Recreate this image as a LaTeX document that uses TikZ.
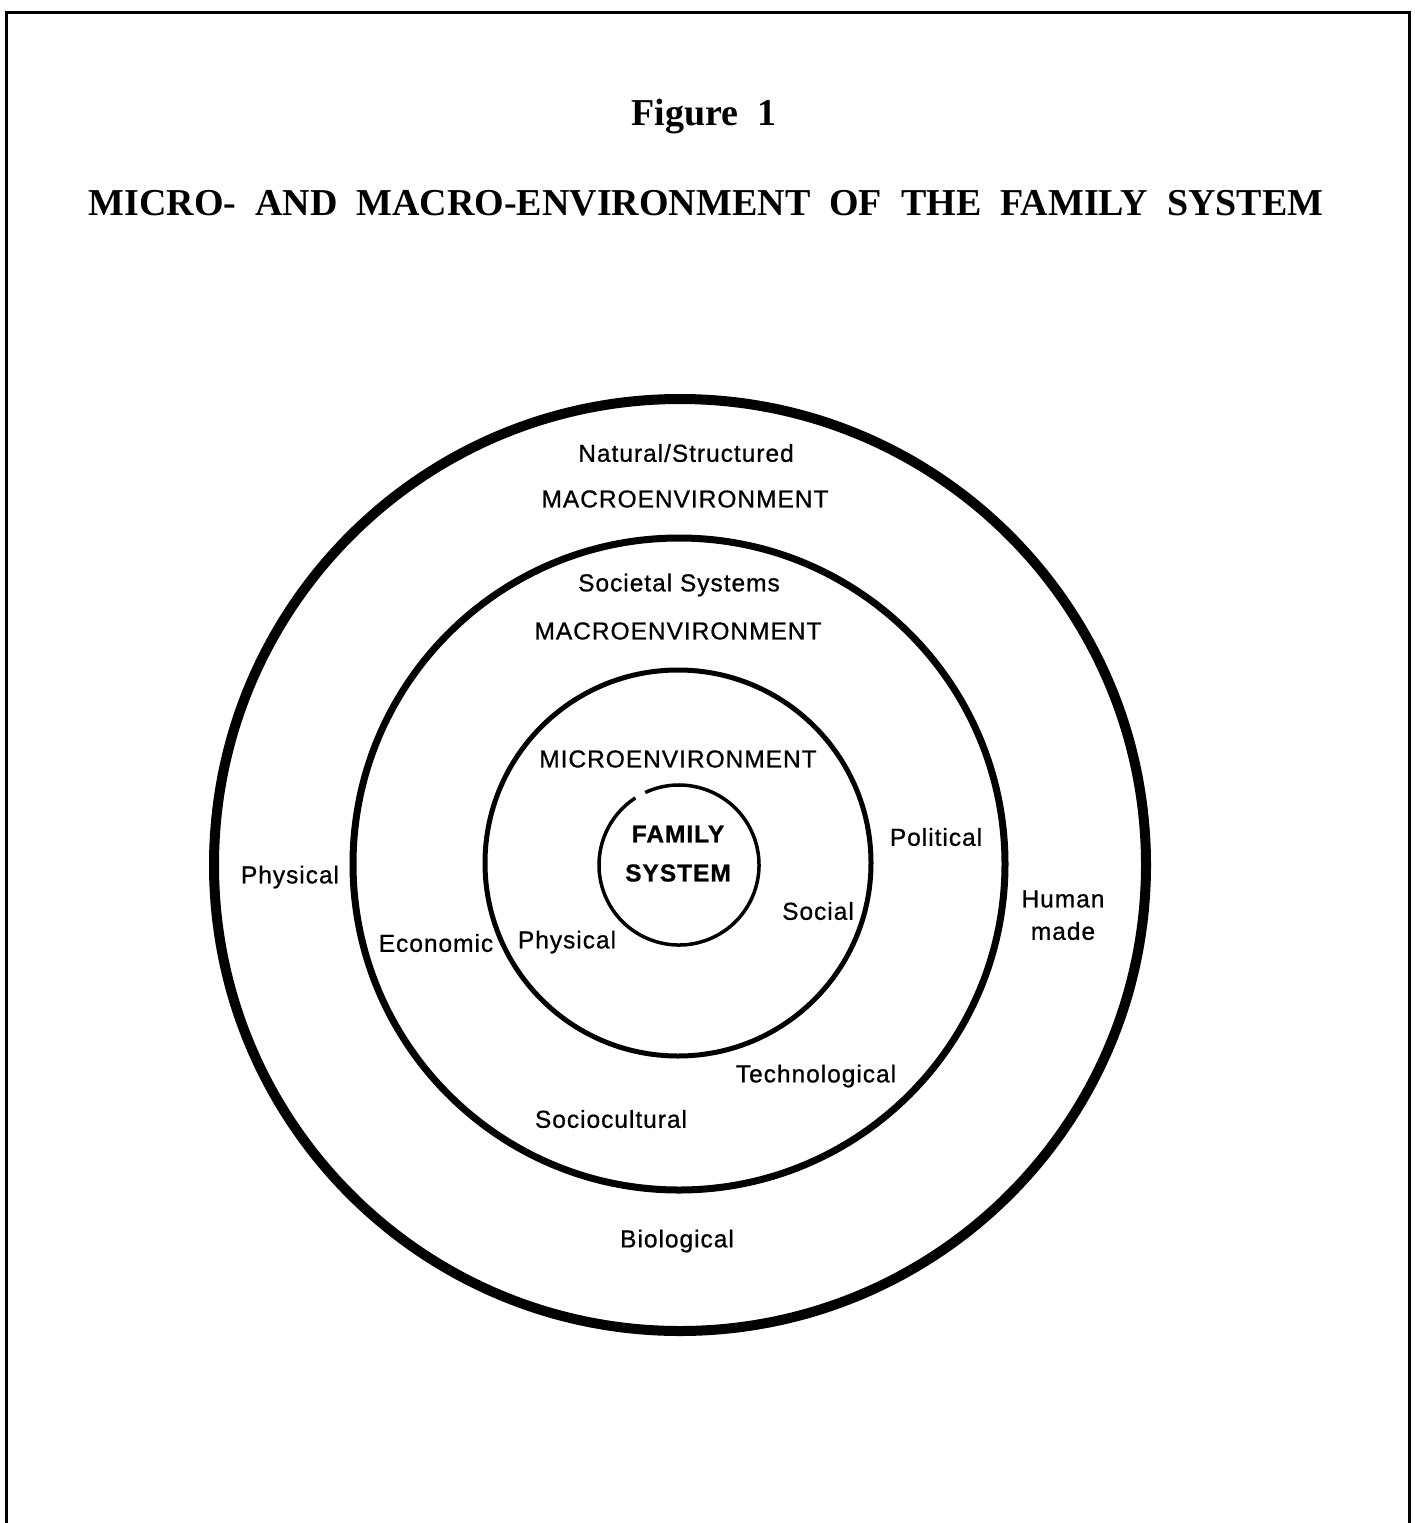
\documentclass[tikz,border=0pt]{standalone}
\usepackage{fontspec}
\setmainfont{Liberation Serif}
\newfontfamily\labfont[LetterSpace=4,FakeBold=0.8]{Liberation Sans}
\begin{document}
\begin{tikzpicture}[x=1pt,y=-1pt,
  lbl/.style={font=\labfont\fontsize{24.5}{28}\selectfont, inner sep=0pt, text=black},
  lblb/.style={font=\labfont\bfseries\fontsize{24.5}{28}\selectfont, inner sep=0pt, text=black},
  ttl/.style={font=\bfseries\fontsize{38}{44}\selectfont, inner sep=0pt},
  ring/.style={draw=black, fill=none}]
\useasboundingbox (0,0) rectangle (1415,1523);
% frame
\draw[line width=3pt] (6,1530) -- (6,12) -- (1409,12) -- (1409,1530);
% titles
\node[ttl] (fig) at (704,117) {Figure\ \ 1};
\node[ttl] (title) at (706,203) {MICRO-\ \ AND\ \ MACRO-ENVIRONMENT\ \ OF\ \ THE\ \ FAMILY\ \ SYSTEM};
% rings
\coordinate (c) at (680,865);
\draw[ring, line width=10pt] (c) circle[radius=466];
\draw[ring, line width=7pt] (679,864) circle[radius=326];
\draw[ring, line width=5pt] (678,863) circle[radius=193];
\draw[ring, line width=3.5pt] (679,865) ++(-115:80) arc[start angle=-115, end angle=237, radius=80];
% labels
\node[lbl] (nat) at (686,453) {Natural/Structured};
\node[lbl] (macro1) at (685,499) {MACROENVIRONMENT};
\node[lbl] (soc) at (679,585) {Societal Systems};
\node[lbl] (macro2) at (678,631) {MACROENVIRONMENT};
\node[lbl] (micro) at (678,759) {MICROENVIRONMENT};
\node[lblb] (fam) at (678,834) {FAMILY};
\node[lblb] (sys) at (678,873) {SYSTEM};
\node[lbl] (pol) at (936,837) {Political};
\node[lbl] (phys1) at (290,877) {Physical};
\node[lbl] (hum) at (1063,899) {Human};
\node[lbl] (made) at (1063,931) {made};
\node[lbl] (social) at (818,911) {Social};
\node[lbl] (econ) at (436,943) {Economic};
\node[lbl] (phys2) at (567,942) {Physical};
\node[lbl] (tech) at (816,1076) {Technological};
\node[lbl] (socio) at (611,1119) {Sociocultural};
\node[lbl] (bio) at (677,1241) {Biological};
\end{tikzpicture}
\end{document}
